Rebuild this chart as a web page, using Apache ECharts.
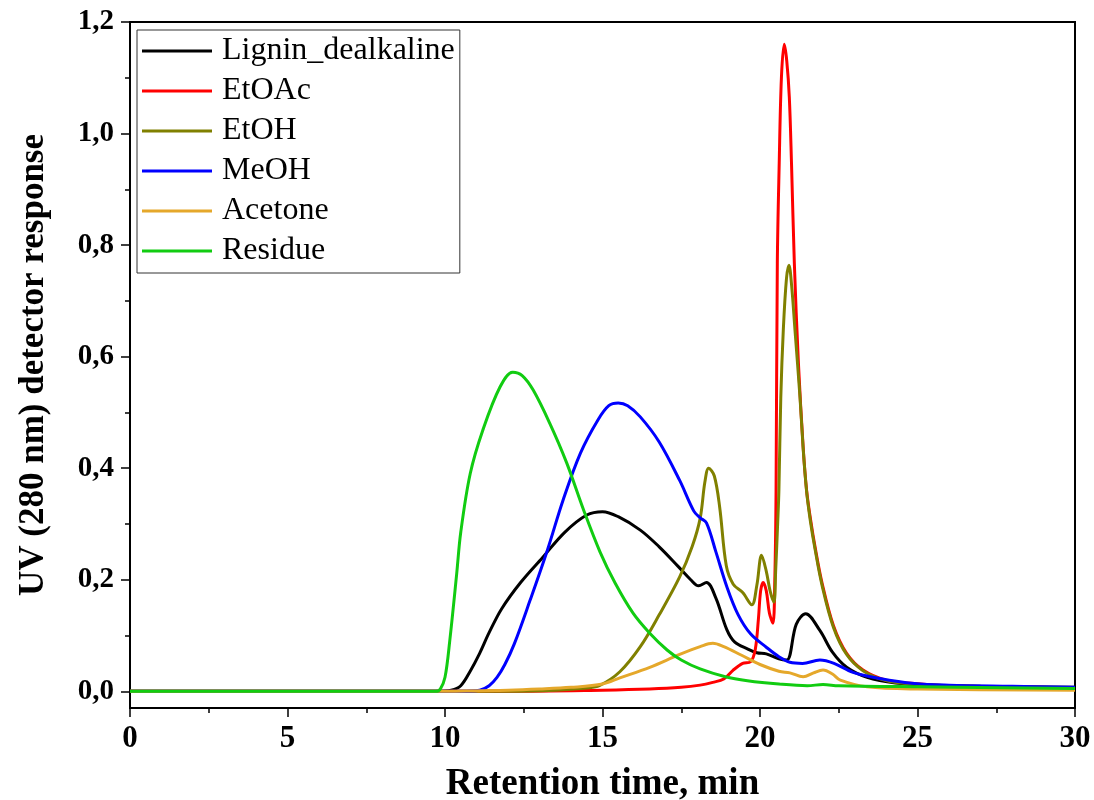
<!DOCTYPE html>
<html>
<head>
<meta charset="utf-8">
<script src="https://cdn.jsdelivr.net/npm/echarts@6/dist/echarts.min.js"></script>
<style>
html,body{margin:0;padding:0;background:#fff;}
#chart{width:1094px;height:800px;}
</style>
</head>
<body>
<div id="chart"></div>
<script>
// ---- data (retention time [min], UV response) ----
const seriesNames = ['Lignin_dealkaline','EtOAc','EtOH','MeOH','Acetone','Residue'];
const seriesColors = ['#000000','#FF0000','#808000','#0000FF','#E5A82B','#11CC11'];

const lignin = [[0,0],[9.8,0],[10.2,0.002],[10.5,0.01],[10.8,0.036],[11.1,0.068],[11.4,0.105],[11.8,0.148],[12.4,0.195],[13.1,0.24],[13.8,0.285],[14.5,0.316],[15.0,0.322],[15.5,0.313],[16.2,0.289],[16.8,0.259],[17.4,0.224],[17.8,0.2],[18.05,0.189],[18.3,0.195],[18.6,0.167],[18.95,0.11],[19.2,0.088],[19.6,0.076],[19.9,0.069],[20.2,0.067],[20.6,0.058],[20.85,0.056],[21.15,0.12],[21.45,0.139],[21.9,0.109],[22.3,0.07],[22.75,0.043],[23.4,0.025],[24.3,0.015],[25.5,0.011],[27,0.009],[30,0.007]];

const etoac = [[0,0],[12,0],[15,0.002],[16.5,0.004],[17.5,0.007],[18.1,0.011],[18.5,0.016],[18.85,0.022],[19.15,0.038],[19.45,0.05],[19.7,0.053],[19.85,0.075],[19.95,0.13],[20.02,0.18],[20.1,0.195],[20.2,0.18],[20.3,0.14],[20.41,0.122],[20.47,0.2],[20.51,0.36],[20.55,0.768],[20.61,0.947],[20.68,1.1],[20.77,1.16],[20.85,1.13],[20.93,1.066],[21.0,0.947],[21.09,0.768],[21.22,0.588],[21.37,0.438],[21.48,0.36],[21.6,0.31],[21.75,0.258],[21.97,0.194],[22.33,0.118],[22.75,0.068],[23.27,0.038],[24.0,0.02],[24.9,0.014],[26,0.01],[28,0.008],[30,0.006]];

const etoh = [[0,0],[12,0],[13.5,0.002],[14.5,0.006],[14.9,0.01],[15.55,0.035],[16.2,0.08],[16.8,0.137],[17.45,0.205],[17.85,0.26],[18.1,0.31],[18.25,0.375],[18.37,0.4],[18.55,0.386],[18.72,0.33],[18.93,0.225],[19.15,0.192],[19.45,0.177],[19.74,0.155],[19.9,0.19],[20.05,0.244],[20.2,0.215],[20.32,0.18],[20.44,0.16],[20.5,0.22],[20.56,0.3],[20.6,0.36],[20.66,0.527],[20.74,0.648],[20.84,0.74],[20.92,0.764],[21.0,0.73],[21.11,0.648],[21.27,0.527],[21.37,0.435],[21.48,0.358],[21.6,0.305],[21.75,0.254],[21.97,0.19],[22.33,0.115],[22.75,0.066],[23.27,0.037],[24.0,0.019],[24.9,0.013],[26,0.01],[28,0.008],[30,0.006]];

const meoh = [[0,0],[10.5,0],[11.1,0.002],[11.4,0.01],[11.65,0.025],[11.9,0.048],[12.2,0.085],[12.7,0.163],[13.25,0.253],[13.75,0.343],[14.3,0.427],[14.85,0.486],[15.2,0.512],[15.5,0.517],[15.8,0.512],[16.2,0.492],[16.8,0.447],[17.45,0.378],[17.9,0.323],[18.1,0.311],[18.3,0.302],[18.6,0.25],[18.95,0.187],[19.3,0.138],[19.7,0.103],[20.2,0.079],[20.6,0.062],[20.95,0.052],[21.35,0.05],[21.9,0.056],[22.35,0.05],[22.95,0.034],[23.8,0.023],[24.9,0.014],[26,0.011],[28,0.009],[30,0.007]];

const acetone = [[0,0],[10,0],[12,0.002],[13,0.004],[14,0.007],[15,0.013],[15.55,0.024],[16.5,0.043],[17.45,0.066],[18.1,0.08],[18.5,0.086],[18.85,0.08],[19.4,0.065],[20.0,0.048],[20.6,0.036],[20.95,0.033],[21.37,0.026],[21.7,0.033],[22.0,0.038],[22.3,0.031],[22.55,0.02],[23.4,0.008],[25,0.004],[30,0.002]];

const residue = [[0,0],[9.7,0],[9.85,0.004],[10.0,0.025],[10.15,0.09],[10.37,0.21],[10.5,0.285],[10.8,0.39],[11.2,0.468],[11.75,0.546],[12.15,0.572],[12.45,0.566],[12.8,0.54],[13.33,0.48],[13.86,0.41],[14.4,0.325],[14.92,0.25],[15.4,0.194],[15.97,0.14],[16.5,0.104],[17.05,0.074],[17.5,0.056],[18.1,0.04],[18.9,0.026],[19.6,0.019],[20.6,0.013],[21.5,0.01],[22.0,0.012],[22.5,0.01],[25,0.008],[30,0.005]];

const allData = [lignin, etoac, etoh, meoh, acetone, residue];

const yMajorTicks = [0, 0.2, 0.4, 0.6, 0.8, 1.0, 1.2];
const yMinorTicks = [0.1, 0.3, 0.5, 0.7, 0.9, 1.1];

const chart = echarts.init(document.getElementById('chart'));
const serif = '"Liberation Serif", "DejaVu Serif", serif';

const option = {
  animation: false,
  backgroundColor: '#fff',
  grid: {left: 130, right: 19, top: 22, bottom: 92, show: true, borderColor: '#000', borderWidth: 2,
    containLabel: false, outerBoundsMode: 'none'},
  legend: {
    left: 137, top: 30, orient: 'vertical',
    data: seriesNames,
    icon: 'rect', itemWidth: 70, itemHeight: 3, itemGap: 8,
    borderColor: '#333', borderWidth: 1, padding: [5, 5, 6, 5],
    textStyle: {fontFamily: serif, fontSize: 32, color: '#000', lineHeight: 30, padding: [0, 0, 0, 5]}
  },
  xAxis: [{
    type: 'value', min: 0, max: 30, interval: 5,
    name: 'Retention time, min', nameLocation: 'middle', nameGap: 58,
    nameTextStyle: {fontFamily: serif, fontWeight: 'bold', fontSize: 37, color: '#000'},
    axisLine: {onZero: false, lineStyle: {color: '#000', width: 2}},
    axisTick: {show: true, inside: false, length: 9, lineStyle: {color: '#000', width: 1.5}},
    minorTick: {show: true, splitNumber: 2, length: 5, lineStyle: {color: '#000', width: 1.5}},
    axisLabel: {fontFamily: serif, fontWeight: 'bold', fontSize: 31, color: '#000', margin: 15},
    splitLine: {show: false}
  }],
  yAxis: [{
    type: 'value', min: -0.03, max: 1.2,
    name: 'UV (280 nm) detector response', nameLocation: 'middle', nameGap: 79,
    nameTextStyle: {fontFamily: serif, fontWeight: 'bold', fontSize: 35, color: '#000'},
    axisLine: {onZero: false, lineStyle: {color: '#000', width: 2}},
    axisTick: {show: true, inside: false, length: 9, customValues: yMajorTicks, lineStyle: {color: '#000', width: 1.5}},
    axisLabel: {customValues: yMajorTicks, fontFamily: serif, fontWeight: 'bold', fontSize: 29, color: '#000', margin: 16,
      formatter: v => v.toFixed(1).replace('.', ',')},
    splitLine: {show: false}
  }, {
    type: 'value', min: -0.03, max: 1.2, position: 'left',
    axisLine: {show: false},
    axisTick: {show: true, inside: false, length: 5, customValues: yMinorTicks, lineStyle: {color: '#000', width: 1.5}},
    axisLabel: {show: false, customValues: yMinorTicks},
    splitLine: {show: false}
  }],
  series: seriesNames.map((n, i) => ({
    name: n, type: 'line', data: allData[i], xAxisIndex: 0, yAxisIndex: 0,
    showSymbol: false, symbol: 'none', smooth: 0.35,
    lineStyle: {color: seriesColors[i], width: 3},
    itemStyle: {color: seriesColors[i]},
    z: 2 + i
  }))
};
chart.setOption(option);
</script>
</body>
</html>
